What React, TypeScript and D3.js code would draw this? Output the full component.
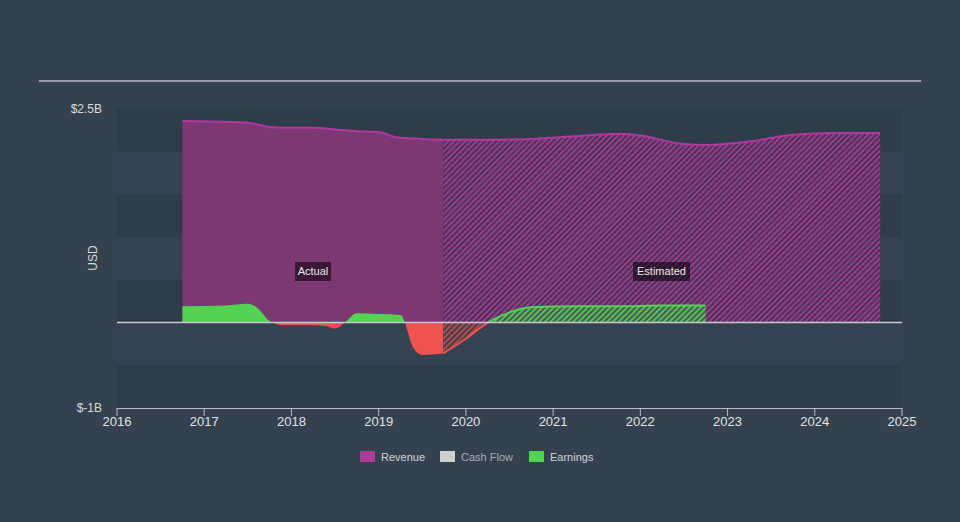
import React from "react";
import * as d3 from "d3";

const revActualX = [2016.75, 2017.25, 2017.5, 2017.75, 2018.0, 2018.25, 2018.5, 2018.75, 2019.0, 2019.2, 2019.5, 2019.74];
const revActualY = [2.36, 2.35, 2.34, 2.29, 2.28, 2.28, 2.26, 2.24, 2.23, 2.17, 2.15, 2.14];
const revEstX = [2019.74, 2020.25, 2020.75, 2021.25, 2021.75, 2022.0, 2022.5, 2022.75, 2023.25, 2023.75, 2024.25, 2024.75];
const revEstY = [2.14, 2.14, 2.15, 2.18, 2.21, 2.19, 2.09, 2.08, 2.12, 2.2, 2.22, 2.22];
const earnActualX = [2016.75, 2017.25, 2017.5, 2017.6, 2017.75, 2017.9, 2018.25, 2018.4, 2018.5, 2018.6, 2018.75, 2019.0, 2019.25, 2019.4, 2019.5, 2019.74];
const earnActualY = [0.19, 0.2, 0.22, 0.18, 0.02, -0.03, -0.03, -0.04, -0.07, -0.01, 0.11, 0.1, 0.09, -0.3, -0.38, -0.36];
const earnEstX = [2019.74, 2020.0, 2020.25, 2020.5, 2020.75, 2021.25, 2021.75, 2022.25, 2022.75];
const earnEstY = [-0.36, -0.19, 0.0, 0.12, 0.18, 0.19, 0.19, 0.2, 0.2];
const xTicks = [2016, 2017, 2018, 2019, 2020, 2021, 2022, 2023, 2024, 2025];
const yTickLabels = ["$2.5B", "$-1B"];
const yTickValues = [2.5, -1];
const legendNames = ["Revenue", "Cash Flow", "Earnings"];
const legendColors = ["#b0399c", "#d0d0d0", "#52d352"];

export default function App() {
  const W = 960, H = 522;
  const x = d3.scaleLinear().domain([2016, 2025]).range([117, 902]);
  const y = d3.scaleLinear().domain([-1, 2.5]).range([408, 109]);
  const zero = y(0);
  const pts = (xs: number[], ys: number[]) => xs.map((v, i) => [v, ys[i]] as [number, number]);
  const area = d3.area<[number, number]>().x(d => x(d[0])).y0(zero).y1(d => y(d[1])).curve(d3.curveMonotoneX);
  const line = d3.line<[number, number]>().x(d => x(d[0])).y(d => y(d[1])).curve(d3.curveMonotoneX);

  const bands = d3.range(7).map(i => ({ y0: y(2.5 - i * 0.5), y1: y(2.0 - i * 0.5), dark: i % 2 === 0 }));

  const ra = pts(revActualX, revActualY);
  const re = pts(revEstX, revEstY);
  const ea = pts(earnActualX, earnActualY);
  const ee = pts(earnEstX, earnEstY);

  return (
    <svg width={W} height={H} style={{ position: "absolute", left: 0, top: 0, fontFamily: "'Liberation Sans', Arial, sans-serif" }}>
      <defs>
        <pattern id="hRev" width="4" height="4" patternUnits="userSpaceOnUse" patternTransform="rotate(45)">
          <rect width="4" height="4" fill="#4a3656" />
          <rect width="1.7" height="4" fill="#a83a9a" />
        </pattern>
        <pattern id="hGreen" width="4" height="4" patternUnits="userSpaceOnUse" patternTransform="rotate(45)">
          <rect width="4" height="4" fill="#4d5a55" />
          <rect width="1.7" height="4" fill="#52d352" />
        </pattern>
        <pattern id="hRed" width="4" height="4" patternUnits="userSpaceOnUse" patternTransform="rotate(45)">
          <rect width="4" height="4" fill="#3b4350" />
          <rect width="1.7" height="4" fill="#d04848" />
        </pattern>
        <clipPath id="above"><rect x={0} y={0} width={W} height={zero} /></clipPath>
        <clipPath id="below"><rect x={0} y={zero} width={W} height={H - zero} /></clipPath>
      </defs>
      <rect width={W} height={H} fill="#344250" />
      <line x1={39} x2={921} y1={81} y2={81} stroke="#b8bec4" strokeWidth={1.5} />
      {bands.map((b, i) => (
        <rect key={i} x={117} y={b.y0} width={785} height={b.y1 - b.y0} fill={b.dark ? "#2f3c4a" : "#344251"} />
      ))}
      {/* revenue */}
      <path d={area(ra) || ""} fill="#7b3873" />
      <path d={line(ra) || ""} fill="none" stroke="#b0399c" strokeWidth={2} />
      <path d={area(re) || ""} fill="url(#hRev)" />
      <path d={line(re) || ""} fill="none" stroke="#b0399c" strokeWidth={2} />
      {/* earnings actual */}
      <path d={area(ea) || ""} fill="#52d352" clipPath="url(#above)" />
      <path d={area(ea) || ""} fill="#f05252" clipPath="url(#below)" />
      {/* earnings estimate */}
      <path d={area(ee) || ""} fill="url(#hGreen)" clipPath="url(#above)" />
      <path d={area(ee) || ""} fill="url(#hRed)" clipPath="url(#below)" />
      <path d={line(ee) || ""} fill="none" stroke="#52d352" strokeWidth={2} clipPath="url(#above)" />
      <path d={line(ee) || ""} fill="none" stroke="#f05252" strokeWidth={2} clipPath="url(#below)" />
      {/* zero line */}
      <line x1={117} x2={902} y1={zero} y2={zero} stroke="#c8ccd0" strokeWidth={1.5} />
      {/* labels */}
      <rect x={295} y={262} width={36} height={19} fill="#000" opacity={0.55} />
      <text x={313} y={275} fill="#e8e8e8" fontSize={11} textAnchor="middle">Actual</text>
      <rect x={633} y={262} width={57} height={19} fill="#000" opacity={0.55} />
      <text x={661.5} y={275} fill="#e8e8e8" fontSize={11} textAnchor="middle">Estimated</text>
      {/* y axis */}
      {yTickValues.map((v, i) => (
        <text key={i} x={102} y={y(v) + 4} fill="#d8dadc" fontSize={12} textAnchor="end">{yTickLabels[i]}</text>
      ))}
      <text transform={`translate(97,${258}) rotate(-90)`} fill="#d8dadc" fontSize={12} textAnchor="middle">USD</text>
      {/* x axis */}
      <line x1={117} x2={902} y1={408.5} y2={408.5} stroke="#b8bec4" strokeWidth={1} />
      {xTicks.map(t => (
        <g key={t}>
          <line x1={x(t)} x2={x(t)} y1={408} y2={416} stroke="#b8bec4" strokeWidth={1} />
          <text x={x(t)} y={426} fill="#e0e2e4" fontSize={13} textAnchor="middle">{t}</text>
        </g>
      ))}
      {/* legend */}
      {legendNames.map((n, i) => {
        const lx = [360, 440, 529][i];
        return (
          <g key={n}>
            <rect x={lx} y={451} width={15} height={11} fill={legendColors[i]} />
            <text x={lx + 21} y={461} fill={i === 1 ? "#a8aeb4" : "#d0d4d8"} fontSize={11}>{n}</text>
          </g>
        );
      })}
    </svg>
  );
}
